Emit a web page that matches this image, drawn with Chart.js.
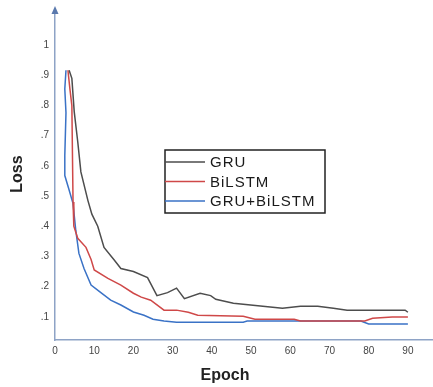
<!DOCTYPE html>
<html>
<head>
<meta charset="utf-8">
<script src="https://cdn.jsdelivr.net/npm/chart.js@4"></script>
<style>
  html, body { margin: 0; padding: 0; background: #fff; }
  #wrap { width: 433px; height: 387px; position: relative; }
</style>
</head>
<body>
<div id="wrap"><canvas id="lossChart"></canvas></div>
<script>
// Series
const seriesNames = ['GRU', 'BiLSTM', 'GRU+BiLSTM'];

const gruEpochs = [3.6, 4.3, 4.9, 5.8, 6.6, 8.4, 9.4, 10.9, 12.5, 15, 16.8, 20, 23.6, 26, 28.7, 31, 33, 37, 39.7, 41, 45.5, 53, 58, 62.6, 67, 71, 74.5, 89.3, 90];
const gruLoss   = [0.917, 0.89, 0.78, 0.68, 0.58, 0.485, 0.44, 0.40, 0.33, 0.29, 0.26, 0.25, 0.23, 0.17, 0.18, 0.195, 0.16, 0.178, 0.17, 0.158, 0.145, 0.135, 0.128, 0.135, 0.135, 0.128, 0.122, 0.122, 0.115];

const bilstmEpochs = [3.3, 3.8, 4.3, 4.6, 4.8, 5.8, 7.9, 9.2, 10, 13.5, 16.8, 20, 22, 24.4, 27.8, 31, 34, 36.4, 48, 51, 61, 62.6, 79, 81, 86, 90];
const bilstmLoss   = [0.917, 0.855, 0.80, 0.48, 0.40, 0.36, 0.33, 0.29, 0.255, 0.227, 0.205, 0.178, 0.165, 0.155, 0.122, 0.122, 0.115, 0.105, 0.102, 0.092, 0.092, 0.086, 0.086, 0.095, 0.099, 0.099];

const hybridEpochs = [2.8, 2.5, 2.8, 2.5, 2.5, 3.6, 4.6, 5.3, 6.1, 7.4, 9.2, 11.7, 14.2, 16.8, 20, 22.7, 25, 27.8, 31, 48, 49, 78, 80, 90];
const hybridLoss   = [0.917, 0.855, 0.776, 0.634, 0.568, 0.52, 0.475, 0.386, 0.31, 0.26, 0.205, 0.18, 0.155, 0.139, 0.116, 0.105, 0.092, 0.086, 0.082, 0.082, 0.086, 0.086, 0.076, 0.076];

const xTicks = [0, 10, 20, 30, 40, 50, 60, 70, 80, 90];
const yTicks = [0.1, 0.2, 0.3, 0.4, 0.5, 0.6, 0.7, 0.8, 0.9, 1];
const yTickLabels = ['.1', '.2', '.3', '.4', '.5', '.6', '.7', '.8', '.9', '1'];

const lineColors = ['#4d4d4d', '#cf4848', '#3a72c6'];
const axisColor = '#8ea3c6';

function toPoints(xs, ys) {
    return xs.map((x, i) => ({ x: x, y: ys[i] }));
}

// Axis arrow, axis titles and the boxed legend inside the plot
const decorations = {
    id: 'decorations',
    afterDraw(chart) {
        const ctx = chart.ctx;
        const area = chart.chartArea;
        ctx.save();

        // arrow head on the y axis
        ctx.fillStyle = '#5a79ad';
        ctx.beginPath();
        ctx.moveTo(area.left, area.top - 6);
        ctx.lineTo(area.left - 3.5, area.top + 2);
        ctx.lineTo(area.left + 3.5, area.top + 2);
        ctx.closePath();
        ctx.fill();

        // axis titles
        ctx.fillStyle = '#222';
        ctx.font = 'bold 16px "Liberation Sans", Arial, sans-serif';
        ctx.textAlign = 'center';
        ctx.textBaseline = 'middle';
        ctx.fillText('Epoch', 225, 376);
        ctx.translate(18, 174);
        ctx.rotate(-Math.PI / 2);
        ctx.fillText('Loss', 0, 0);
        ctx.setTransform(1, 0, 0, 1, 0, 0);

        // legend box
        const bx = 165, by = 150, bw = 160, bh = 63;
        ctx.fillStyle = '#fff';
        ctx.fillRect(bx, by, bw, bh);
        ctx.strokeStyle = '#222';
        ctx.lineWidth = 1.5;
        ctx.strokeRect(bx, by, bw, bh);

        ctx.font = '15px "Liberation Sans", Arial, sans-serif';
        ctx.textAlign = 'left';
        ctx.letterSpacing = '1px';
        chart.data.datasets.forEach((ds, i) => {
            const yy = by + 12 + i * 19.5;
            ctx.strokeStyle = ds.borderColor;
            ctx.lineWidth = 1.3;
            ctx.beginPath();
            ctx.moveTo(bx, yy);
            ctx.lineTo(bx + 40, yy);
            ctx.stroke();
            ctx.fillStyle = '#1a1a1a';
            ctx.fillText(ds.label, bx + 45, yy + 1);
        });
        ctx.restore();
    }
};

new Chart(document.getElementById('lossChart'), {
    type: 'line',
    data: {
        datasets: [
            { label: seriesNames[0], data: toPoints(gruEpochs, gruLoss), borderColor: lineColors[0] },
            { label: seriesNames[1], data: toPoints(bilstmEpochs, bilstmLoss), borderColor: lineColors[1] },
            { label: seriesNames[2], data: toPoints(hybridEpochs, hybridLoss), borderColor: lineColors[2] }
        ]
    },
    options: {
        responsive: true,
        maintainAspectRatio: false,
        animation: false,
        layout: { padding: { top: 10, right: 0, left: 0, bottom: 0 } },
        elements: {
            point: { radius: 0 },
            line: { borderWidth: 1.5, tension: 0, fill: false }
        },
        plugins: {
            legend: { display: false },
            tooltip: { enabled: false }
        },
        scales: {
            x: {
                type: 'linear',
                min: 0,
                max: 96.4,
                afterBuildTicks: scale => { scale.ticks = xTicks.map(v => ({ value: v })); },
                afterFit: scale => { scale.height = 47; },
                grid: { display: false, drawTicks: false },
                border: { display: true, color: axisColor, width: 1.5 },
                ticks: {
                    color: '#444',
                    font: { family: '"Liberation Sans", Arial, sans-serif', size: 10 },
                    padding: 5,
                    maxRotation: 0
                }
            },
            y: {
                type: 'linear',
                min: 0.023,
                max: 1.11,
                afterBuildTicks: scale => { scale.ticks = yTicks.map(v => ({ value: v })); },
                afterFit: scale => { scale.width = 55; },
                grid: { display: false, drawTicks: false },
                border: { display: true, color: axisColor, width: 1.5 },
                ticks: {
                    color: '#444',
                    font: { family: '"Liberation Sans", Arial, sans-serif', size: 10 },
                    padding: 6,
                    callback: value => yTickLabels[yTicks.findIndex(t => Math.abs(t - value) < 1e-6)]
                }
            }
        }
    },
    plugins: [decorations]
});
</script>
</body>
</html>
